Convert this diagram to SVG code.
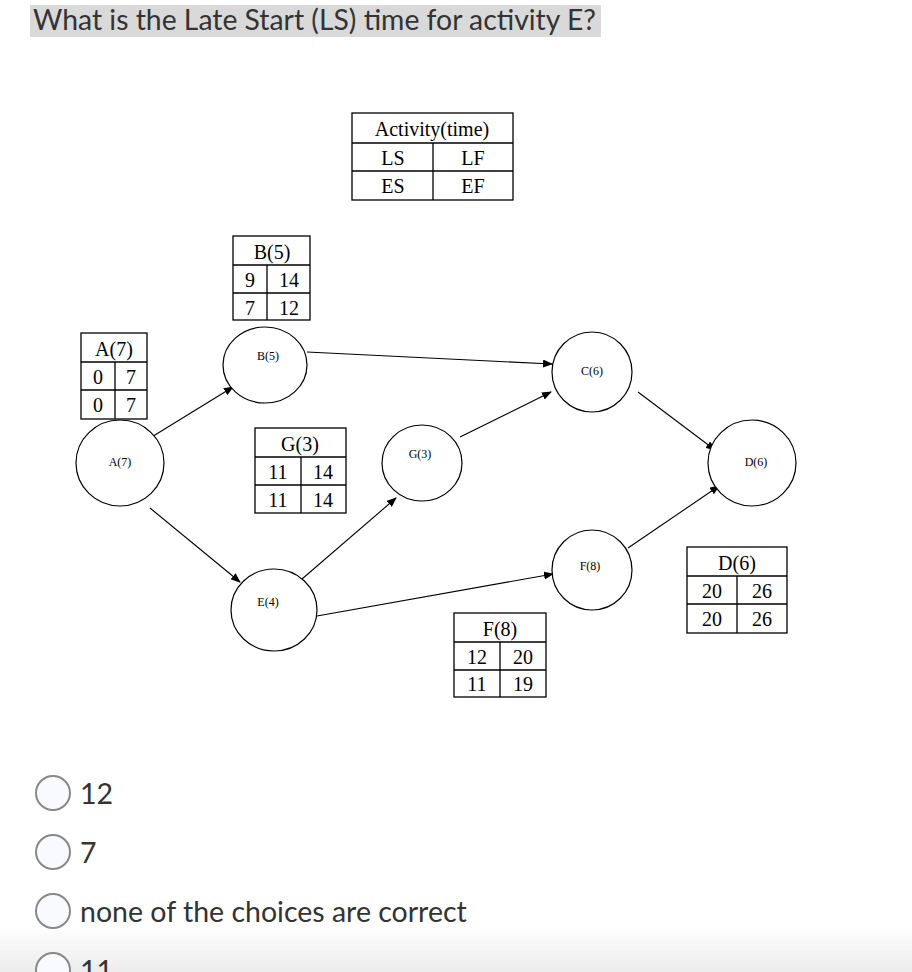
<svg xmlns="http://www.w3.org/2000/svg" width="912" height="972" viewBox="0 0 912 972">
<defs>
<marker id="ar" markerWidth="10" markerHeight="8" refX="9" refY="4" orient="auto" markerUnits="userSpaceOnUse"><path d="M0,0 L10,4 L0,8 z" fill="#000"/></marker>
<linearGradient id="bg" x1="0" y1="0" x2="0" y2="1"><stop offset="0" stop-color="#fff"/><stop offset="1" stop-color="#ececec"/></linearGradient>
</defs>
<style>
.t{fill:none;stroke:#000;stroke-width:1.3}
.n{fill:#fff;stroke:#000;stroke-width:1.2}
.tt{font-family:"Liberation Serif",serif;font-size:20px;text-anchor:middle;fill:#000}
.nl{font-family:"Liberation Serif",serif;font-size:12px;text-anchor:middle;fill:#000}
.c{stroke:#000;stroke-width:1.1;fill:none;marker-end:url(#ar)}
.q{font-family:Lato,sans-serif;font-size:28.5px;fill:#333}
.r{fill:#f8faff;stroke:#888;stroke-width:2}
</style>
<rect width="912" height="972" fill="#fff"/>
<rect x="0" y="925" width="912" height="47" fill="url(#bg)"/>
<rect x="30" y="5" width="571" height="32" fill="#d9d9d9"/>
<text x="33" y="30" font-family="Lato,sans-serif" font-size="28" fill="#333" textLength="563" lengthAdjust="spacingAndGlyphs">What is the Late Start (LS) time for activity E?</text>

<g id="connectors">
<line class="c" x1="150" y1="438" x2="233" y2="387"/>
<line class="c" x1="150" y1="508" x2="240" y2="582"/>
<line class="c" x1="307" y1="352" x2="552" y2="364"/>
<line class="c" x1="460" y1="437" x2="551" y2="392"/>
<line class="c" x1="638" y1="392" x2="715" y2="450"/>
<line class="c" x1="302" y1="579" x2="396" y2="498"/>
<line class="c" x1="317" y1="616" x2="553" y2="574"/>
<line class="c" x1="628" y1="548" x2="719" y2="486"/>
</g>

<g id="legend">
<rect class="t" x="352" y="113" width="161" height="87"/>
<path class="t" d="M352 143H513M352 171H513M433 143V200"/>
<text class="tt" x="432" y="136">Activity(time)</text>
<text class="tt" x="393" y="165">LS</text><text class="tt" x="473" y="165">LF</text>
<text class="tt" x="393" y="193">ES</text><text class="tt" x="473" y="193">EF</text>
</g>
<g id="tableB">
<rect class="t" x="233" y="236" width="77" height="84"/>
<path class="t" d="M233 265H310M233 293H310M267 265V320"/>
<text class="tt" x="272" y="259">B(5)</text>
<text class="tt" x="250" y="287">9</text><text class="tt" x="289" y="287">14</text>
<text class="tt" x="250" y="315">7</text><text class="tt" x="289" y="315">12</text>
</g>
<g id="tableA">
<rect class="t" x="81" y="333" width="66" height="86"/>
<path class="t" d="M81 362H147M81 390H147M115 362V419"/>
<text class="tt" x="114" y="356">A(7)</text>
<text class="tt" x="98" y="384">0</text><text class="tt" x="131" y="384">7</text>
<text class="tt" x="98" y="412">0</text><text class="tt" x="131" y="412">7</text>
</g>
<g id="tableG">
<rect class="t" x="255" y="428" width="91" height="85"/>
<path class="t" d="M255 457H346M255 485H346M301 457V513"/>
<text class="tt" x="300" y="451">G(3)</text>
<text class="tt" x="278" y="479">11</text><text class="tt" x="323" y="479">14</text>
<text class="tt" x="278" y="507">11</text><text class="tt" x="323" y="507">14</text>
</g>
<g id="tableF">
<rect class="t" x="454" y="613" width="92" height="84"/>
<path class="t" d="M454 642H546M454 670H546M500 642V697"/>
<text class="tt" x="500" y="636">F(8)</text>
<text class="tt" x="477" y="664">12</text><text class="tt" x="523" y="664">20</text>
<text class="tt" x="477" y="691">11</text><text class="tt" x="523" y="691">19</text>
</g>
<g id="tableD">
<rect class="t" x="687" y="547" width="100" height="86"/>
<path class="t" d="M687 576H787M687 604H787M737 576V633"/>
<text class="tt" x="737" y="570">D(6)</text>
<text class="tt" x="712" y="598">20</text><text class="tt" x="762" y="598">26</text>
<text class="tt" x="712" y="626">20</text><text class="tt" x="762" y="626">26</text>
</g>

<g id="nodeA"><ellipse class="n" cx="120" cy="463" rx="44" ry="43"/><text class="nl" x="120" y="466">A(7)</text></g>
<g id="nodeB"><ellipse class="n" cx="265" cy="365" rx="42" ry="38"/><text class="nl" x="268" y="360">B(5)</text></g>
<g id="nodeC"><ellipse class="n" cx="592" cy="372" rx="40" ry="40"/><text class="nl" x="592" y="375">C(6)</text></g>
<g id="nodeD"><ellipse class="n" cx="752" cy="463" rx="44" ry="43"/><text class="nl" x="756" y="466">D(6)</text></g>
<g id="nodeG"><ellipse class="n" cx="422" cy="463" rx="40" ry="38"/><text class="nl" x="420" y="458">G(3)</text></g>
<g id="nodeF"><ellipse class="n" cx="592" cy="570" rx="40" ry="40"/><text class="nl" x="590" y="570">F(8)</text></g>
<g id="nodeE"><ellipse class="n" cx="274" cy="610" rx="43" ry="41"/><text class="nl" x="268" y="606">E(4)</text></g>

<g id="options">
<circle class="r" cx="53" cy="793" r="17"/><text class="q" x="80" y="804">12</text>
<circle class="r" cx="53" cy="852" r="17"/><text class="q" x="80" y="863">7</text>
<circle class="r" cx="53" cy="911" r="17"/><text class="q" x="80" y="922">none of the choices are correct</text>
<circle class="r" cx="53" cy="970" r="17"/><text class="q" x="80" y="981">11</text>
</g>
</svg>
